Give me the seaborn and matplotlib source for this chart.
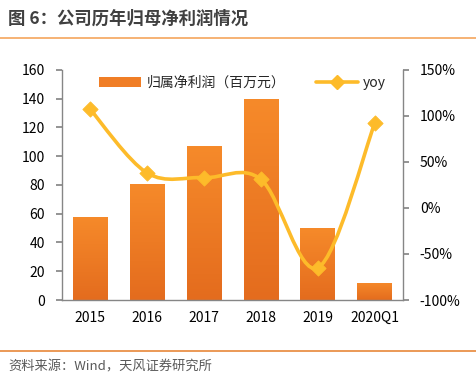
import numpy as np
import pandas as pd
import matplotlib
matplotlib.use('Agg')
import matplotlib.pyplot as plt
from matplotlib.path import Path
from matplotlib.patches import PathPatch, Patch
from matplotlib.lines import Line2D
from matplotlib.colors import LinearSegmentedColormap
import seaborn as sns

# data
years = ['2015', '2016', '2017', '2018', '2019', '2020Q1']
profit = [58, 81, 107, 140, 50, 12]          # 归属净利润（百万元）
yoy = [107, 38, 33, 31, -65, 92]             # yoy, %

sns.set_theme(style='white')
plt.rcParams['font.family'] = ['Noto Sans CJK SC', 'DejaVu Sans']
plt.rcParams['axes.unicode_minus'] = False

df = pd.DataFrame({'year': years, 'profit': profit, 'yoy': yoy})

fig = plt.figure(figsize=(4.76, 3.80), dpi=100)
ax = fig.add_axes([0.130, 0.2105, 0.717, 0.6055])

bar_color = '#F07E26'
line_color = '#FDBB2A'
spine_color = '#868686'

sns.barplot(data=df, x='year', y='profit', color=bar_color, width=0.61,
            saturation=1, ax=ax, zorder=2)

# vertical gradient on each bar
cmap = LinearSegmentedColormap.from_list('bar', ['#E46C1E', '#F68A2A'])
grad = np.linspace(0, 1, 100).reshape(-1, 1)
for p in ax.patches:
    x0, y0 = p.get_x(), p.get_y()
    w, h = p.get_width(), p.get_height()
    im = ax.imshow(grad, extent=[x0, x0 + w, y0, y0 + h], origin='lower',
                   cmap=cmap, aspect='auto', zorder=2.5)
    im.set_clip_path(p)

ax.set_xlim(-0.5, 5.5)
ax.set_ylim(0, 160)
ax.set_yticks(range(0, 161, 20))
ax.set_xlabel('')
ax.set_ylabel('')

# right axis
ax2 = ax.twinx()
ax2.set_ylim(-100, 150)
ax2.set_yticks(range(-100, 151, 50))
ax2.set_yticklabels([f'{v}%' for v in range(-100, 151, 50)])

# smooth yoy curve (Catmull-Rom as bezier segments through the data points)
xs = np.arange(len(yoy), dtype=float)
ys = np.array(yoy, dtype=float)
pts = np.column_stack([xs, ys])
verts = [pts[0]]
codes = [Path.MOVETO]
for i in range(len(pts) - 1):
    p0 = pts[i - 1] if i > 0 else pts[i]
    p1, p2 = pts[i], pts[i + 1]
    p3 = pts[i + 2] if i + 2 < len(pts) else pts[i + 1]
    c1 = p1 + (p2 - p0) / 6
    c2 = p2 - (p3 - p1) / 6
    verts += [c1, c2, p2]
    codes += [Path.CURVE4] * 3
ax2.add_patch(PathPatch(Path(verts, codes), facecolor='none',
                        edgecolor=line_color, lw=2.6, zorder=3))
sns.scatterplot(x=xs, y=ys, marker='D', s=60, color=line_color,
                edgecolor=line_color, ax=ax2, zorder=4)

# spines and ticks
for a in (ax, ax2):
    for s in a.spines.values():
        s.set_visible(False)
    a.tick_params(labelsize=10, colors='black', length=0, pad=6)
ax.spines['left'].set_visible(True)
ax.spines['bottom'].set_visible(True)
ax2.spines['right'].set_visible(True)
for s in (ax.spines['left'], ax.spines['bottom'], ax2.spines['right']):
    s.set_color(spine_color)
    s.set_linewidth(1)
ax.tick_params(axis='y', length=4, color=spine_color, direction='out', pad=8)
ax2.tick_params(axis='y', length=4, color=spine_color, direction='out', pad=8)
ax.tick_params(axis='x', pad=8)

# legend
handles = [Patch(facecolor=bar_color, edgecolor='none'),
           Line2D([], [], color=line_color, lw=2.6, marker='D', markersize=7)]
ax.legend(handles, ['归属净利润（百万元）', 'yoy'], ncol=2, frameon=False,
          loc='upper center', bbox_to_anchor=(0.53, 1.03), fontsize=10,
          handlelength=3.0, handletextpad=0.4, columnspacing=2.2)

# title, source and rule lines
fig.text(8 / 476, 1 - 19 / 380, '图 6：公司历年归母净利润情况', fontsize=12.5,
         color='#404040', fontweight='bold', va='center', ha='left')
fig.text(8 / 476, 1 - 367 / 380, '资料来源：Wind，天风证券研究所', fontsize=9.5,
         color='#595959', va='center', ha='left')
fig.add_artist(Line2D([0, 1], [1 - 38 / 380] * 2, color='#F5A55C', lw=1.2))
fig.add_artist(Line2D([0, 1], [1 - 351 / 380] * 2, color='#E8873A', lw=1.2))

fig.savefig('out.png', dpi=100)
